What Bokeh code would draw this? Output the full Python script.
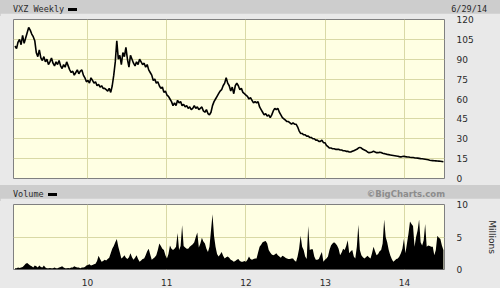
import pandas as pd
from datetime import datetime
from bokeh.plotting import figure
from bokeh.models import (ColumnDataSource, Range1d, FixedTicker, LinearAxis,
                          DatetimeTickFormatter, Div)
from bokeh.layouts import column
from bokeh.embed import file_html
from bokeh.resources import INLINE

# ---------------- data ----------------
start_date = "2009-02-01"          # first weekly bar
n_weeks = 283                      # last weekly bar 2014-06-29

close = [
    100, 98, 103, 105, 101, 108, 102, 106, 110, 114,
    112, 109, 107, 104, 95, 92, 97, 91, 89, 92,
    88, 90, 86, 88, 91, 87, 85, 88, 86, 89,
    85, 83, 86, 84, 88, 85, 82, 80, 81, 78,
    80, 82, 79, 81, 82, 78, 76, 73, 74, 72,
    76, 74, 72, 73, 70, 71, 69, 70, 68, 68,
    67, 66, 68, 65, 70, 78, 88, 104, 90, 93,
    86, 95, 92, 99, 90, 84, 93, 90, 87, 85,
    88, 86, 90, 88, 86, 87, 84, 86, 82, 80,
    78, 74, 75, 72, 73, 70, 68, 69, 65, 66,
    63, 62, 60, 58, 55, 57, 55, 59, 57, 58,
    55, 56, 54, 55, 53, 54, 52, 53, 55, 53,
    54, 52, 53, 54, 51, 50, 52, 49, 48, 50,
    55, 58, 60, 62, 64, 66, 67, 70, 72, 76,
    72, 70, 66, 69, 64, 70, 72, 70, 67, 68,
    65, 64, 63, 62, 60, 61, 59, 57, 58, 57,
    58, 54, 52, 50, 48, 49, 47, 48, 46, 48,
    51, 53, 52, 53, 50, 48, 46, 45, 44, 43,
    43, 42, 41, 42, 41, 41, 39, 36, 34, 34,
    33, 33, 32, 32, 31, 31, 30, 30, 29, 29,
    28, 28, 29, 27, 27, 25, 24, 23, 23, 22.5,
    22.5, 22, 22, 22, 21.5, 21.5, 21, 21, 20.5, 20.5,
    20, 20, 20.5, 21, 21.5, 22, 23, 23.5, 23, 22,
    21.5, 21, 20, 19.5, 19.6, 20, 20.5, 20, 19.5, 19.5,
    19.8, 19.6, 19, 18.8, 18.5, 18.2, 18, 17.8, 17.6, 17.4,
    17.2, 17, 16.8, 16.5, 16.3, 16.6, 16.8, 16.5, 16.3, 16.2,
    16, 15.9, 15.8, 15.6, 15.5, 15.4, 15.2, 15, 14.9, 14.7,
    14.5, 14.3, 14.1, 13.8, 13.6, 13.5, 13.4, 13.3, 13.2, 13.1,
    13, 12.8, 12.6,
]

volume_millions = [
    0.2, 0.2, 0.3, 0.25, 0.3, 0.4, 0.6, 0.9, 1.0, 0.8,
    0.6, 0.5, 0.3, 0.6, 0.5, 0.3, 0.6, 0.4, 0.3, 0.6,
    0.3, 0.2, 0.2, 0.25, 0.2, 0.2, 0.3, 0.2, 0.2, 0.3,
    0.4, 0.5, 0.3, 0.2, 0.2, 0.25, 0.2, 0.3, 0.3, 0.5,
    0.4, 0.3, 0.3, 0.2, 0.3, 0.3, 0.4, 0.6, 0.7, 0.8,
    0.6, 0.7, 0.8, 0.9, 1.3, 2.1, 1.6, 1.2, 1.3, 1.5,
    1.4, 1.6, 1.8, 2.5, 3.2, 3.6, 4.2, 4.7, 3.5, 2.6,
    1.7, 1.9, 2.2, 1.8, 1.6, 1.9, 2.5, 1.9, 1.5, 1.8,
    2.2, 1.6, 1.2, 1.4, 1.6, 1.7, 2.2, 2.8, 3.2, 2.3,
    1.5, 1.7, 1.9, 2.2, 3.0, 4.0, 3.6, 3.2, 3.0, 2.2,
    1.7, 2.4, 3.7, 3.2, 3.0, 3.2, 3.5, 5.6, 3.0, 3.6,
    6.8, 3.6, 3.4, 3.2, 3.2, 3.5, 3.7, 3.9, 4.2, 5.0,
    5.7, 3.4, 4.0, 4.9, 4.3, 4.0, 3.2, 2.7, 3.5, 6.0,
    8.5, 5.2, 3.5, 2.4, 2.0, 2.3, 2.7, 2.1, 1.7, 1.9,
    2.0, 1.8, 1.5, 1.4, 1.2, 1.3, 1.5, 1.6, 1.3, 1.2,
    1.2, 1.3, 1.2, 1.5, 2.0, 1.6, 1.5, 1.6, 1.7, 1.7,
    2.6, 3.5, 3.8, 4.2, 4.3, 4.4, 4.0, 3.0, 2.6, 2.3,
    2.2, 2.3, 2.5, 2.2, 2.0, 1.8, 2.1, 2.0, 1.8, 1.7,
    1.6, 1.6, 1.7, 1.7, 1.4, 1.2, 2.0, 3.2, 5.2, 3.5,
    3.0, 2.0, 1.6, 6.7, 3.0, 3.1, 3.1, 2.0, 1.5, 1.5,
    1.6, 2.2, 2.7, 1.2, 1.5, 1.7, 2.0, 3.0, 3.7, 4.0,
    4.2, 4.0, 3.7, 3.2, 2.2, 2.6, 3.2, 3.0, 3.6, 4.5,
    2.5, 2.8, 3.0, 2.0, 1.7, 3.5, 6.9, 3.0, 2.2, 1.9,
    1.7, 1.9, 2.1, 1.9, 1.7, 2.5, 3.5, 2.8, 2.2, 2.4,
    2.8, 3.0, 4.0, 7.7, 5.0, 4.2, 3.0, 2.2, 1.6, 1.2,
    1.4, 1.6, 1.7, 2.0, 2.5, 3.2, 4.7, 2.5, 4.0, 5.5,
    7.4, 7.0, 6.7, 3.5, 5.0, 6.0, 7.7, 4.2, 3.7, 4.5,
    7.0, 3.5, 3.7, 3.6, 3.5, 3.5, 2.2, 3.0, 5.2, 4.9,
    4.7, 3.7, 3.0,
]

year_ticks = ["2010-01-01", "2011-01-01", "2012-01-01", "2013-01-01", "2014-01-01"]
price_ticks = [0, 15, 30, 45, 60, 75, 90, 105, 120]
volume_ticks = [0, 5, 10]

title_left = "VXZ Weekly"
title_right = "6/29/14"
vol_title = "Volume"
credit = "\u00a9BigCharts.com"

# ---------------- styling ----------------
BG = "#e9e9e9"
BAR = "#cdcdcd"
PLOT_BG = "#ffffe3"
GRID = "#d9d9a6"
OUTLINE = "#808080"
TXT = "#2a2a2a"
LBL_FONT = "DejaVu Sans"

dates = pd.date_range(start_date, periods=n_weeks, freq="7D")
src = ColumnDataSource(dict(date=dates, close=close, vol=volume_millions))
tick_ms = [pd.Timestamp(t).value // 10**6 for t in year_ticks]

x_range = Range1d(start=datetime(2009, 1, 25), end=datetime(2014, 7, 4))


def style(p):
    p.background_fill_color = PLOT_BG
    p.border_fill_color = BG
    p.outline_line_color = OUTLINE
    p.outline_line_width = 1
    p.xgrid.ticker = FixedTicker(ticks=tick_ms)
    p.grid.grid_line_color = GRID
    p.grid.grid_line_width = 1


# price panel
pA = figure(width=500, height=172, x_axis_type="datetime", x_range=x_range,
            y_range=Range1d(0, 120), title=None, toolbar_location=None,
            output_backend="svg", min_border_left=13, min_border_right=56,
            min_border_top=6, min_border_bottom=7, x_axis_location=None,
            y_axis_location=None)
style(pA)
ya = LinearAxis(ticker=FixedTicker(ticks=price_ticks))
ya.axis_line_color = None
ya.major_tick_line_color = None
ya.minor_tick_line_color = None
ya.major_label_standoff = 6
ya.major_label_text_font = LBL_FONT
ya.major_label_text_font_size = "9px"
ya.major_label_text_color = TXT
pA.add_layout(ya, "right")
pA.ygrid.ticker = FixedTicker(ticks=price_ticks)
pA.line("date", "close", source=src, line_color="black", line_width=1.6)

# volume panel
pB = figure(width=500, height=90, x_axis_type="datetime", x_range=x_range,
            y_range=Range1d(0, 10), title=None, toolbar_location=None,
            output_backend="svg", min_border_left=13, min_border_right=56,
            min_border_top=6, min_border_bottom=16, y_axis_location=None)
style(pB)
pB.varea(x="date", y1=0, y2="vol", source=src, fill_color="black")
yb = LinearAxis(ticker=FixedTicker(ticks=volume_ticks), axis_label="Millions")
yb.axis_line_color = None
yb.major_tick_line_color = None
yb.minor_tick_line_color = None
yb.major_label_standoff = 6
yb.major_label_text_font = LBL_FONT
yb.major_label_text_font_size = "9px"
yb.major_label_text_color = TXT
yb.axis_label_text_font = LBL_FONT
yb.axis_label_text_font_size = "9px"
yb.axis_label_text_font_style = "normal"
yb.axis_label_text_color = TXT
yb.axis_label_standoff = 16
pB.add_layout(yb, "right")
pB.ygrid.ticker = FixedTicker(ticks=volume_ticks)
xb = pB.xaxis[0]
xb.ticker = FixedTicker(ticks=tick_ms)
fmt = "%y"
xb.formatter = DatetimeTickFormatter(years=fmt, months=fmt, days=fmt, hours=fmt,
                                     hourmin=fmt, minutes=fmt, minsec=fmt,
                                     seconds=fmt, milliseconds=fmt,
                                     microseconds=fmt)
xb.axis_line_color = None
xb.major_tick_line_color = None
xb.minor_tick_line_color = None
xb.major_label_standoff = 3
xb.major_label_text_font = LBL_FONT
xb.major_label_text_font_size = "9px"
xb.major_label_text_color = TXT

dash = ('<span style="display:inline-block;width:9px;height:3px;'
        'background:#000;vertical-align:middle;margin-left:4px"></span>')


def bar(left_html, right_html, height, pad_right, right_style):
    html = ('<div style="display:flex;justify-content:space-between;align-items:center;'
            f'height:{height}px;width:500px;box-sizing:border-box;padding:0 {pad_right}px 0 13px;'
            f'background:{BAR};font-family:\'DejaVu Sans Mono\';font-size:8.5px;color:{TXT};'
            'line-height:1">'
            f'<span>{left_html}</span><span style="{right_style}">{right_html}</span></div>')
    return Div(text=html, width=500, height=height, margin=0,
               styles={"background-color": BAR})


d1 = bar(title_left + dash, title_right, 13, 13, "")
d2 = bar(vol_title + dash, credit, 13, 55,
         "font-family:'DejaVu Sans';font-weight:bold;font-size:8.5px;color:#8c8c8c")

layout = column(d1, pA, d2, pB, spacing=0, margin=0,
                styles={"background-color": BG})

open("out.html", "w").write(file_html(layout, INLINE))
